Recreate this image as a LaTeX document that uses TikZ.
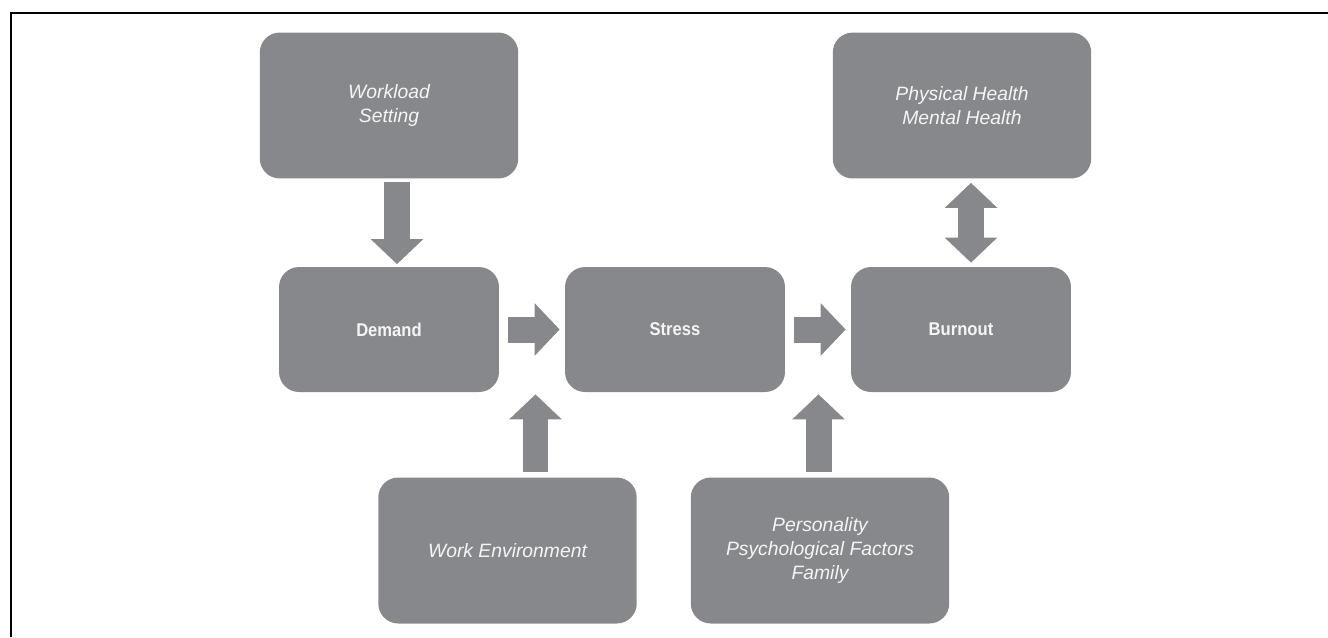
\documentclass[tikz,border=0pt]{standalone}
\usepackage{fontspec}
\setmainfont{Liberation Sans}
\newfontfamily\boxfont[FakeStretch=0.9]{Liberation Sans}
\usetikzlibrary{arrows.meta}
\definecolor{boxgray}{RGB}{135,136,140}
\definecolor{boxtext}{RGB}{245,245,245}
\begin{document}
\begin{tikzpicture}[
        x=0.02cm, y=-0.02cm,
        box/.style={fill=boxgray, rounded corners=0.4cm, align=center, text=boxtext, inner sep=0pt},
        outer/.style={box, minimum width=5.17cm, minimum height=2.92cm, font=\itshape\fontsize{11}{13.8}\selectfont},
        inner/.style={box, minimum width=4.4cm, minimum height=2.5cm, font=\boxfont\bfseries\fontsize{10.5}{14}\selectfont},
        flow/.style={draw=boxgray, line width=0.52cm, -{Triangle[width=1.02cm, length=0.5cm]}},
        both/.style={flow, {Triangle[width=1.02cm, length=0.5cm]}-{Triangle[width=1.02cm, length=0.5cm]}},
    ]
    \useasboundingbox (0,0) rectangle (1328,637);
    \draw[line width=0.04cm] (11,637) -- (11,13) -- (1328,13);

    \node[outer](workload) at (389,105.5){Workload\\Setting};
    \node[outer](health) at (962,105.5){Physical Health\\Mental Health};
    \node[inner](demand) at (389,329.5){Demand};
    \node[inner](stress) at (675,329.5){Stress};
    \node[inner](burnout) at (961,329.5){Burnout};
    \node[outer](environment) at (507.5,550.5){Work Environment};
    \node[outer](personality) at (820,550.5){Personality\\Psychological Factors\\Family};

    \draw[flow, shorten <=0.06cm, shorten >=0.05cm]
        ([xshift=0.16cm]workload.south) -- ([xshift=0.16cm]workload.south |- demand.north);
    \draw[flow, shorten <=0.18cm, shorten >=0.1cm] (demand) -- (stress);
    \draw[flow, shorten <=0.18cm, shorten >=0.1cm] (stress) -- (burnout);
    \draw[both, shorten <=0.08cm, shorten >=0.08cm]
        ([xshift=0.18cm]health.south) -- ([xshift=0.18cm]health.south |- burnout.north);
    \draw[flow, shorten <=0.1cm, shorten >=0.04cm]
        ([xshift=0.56cm]environment.north) -- ([xshift=0.56cm]environment.north |- stress.south);
    \draw[flow, shorten <=0.1cm, shorten >=0.04cm]
        ([xshift=-0.03cm]personality.north) -- ([xshift=-0.03cm]personality.north |- burnout.south);
\end{tikzpicture}
\end{document}
